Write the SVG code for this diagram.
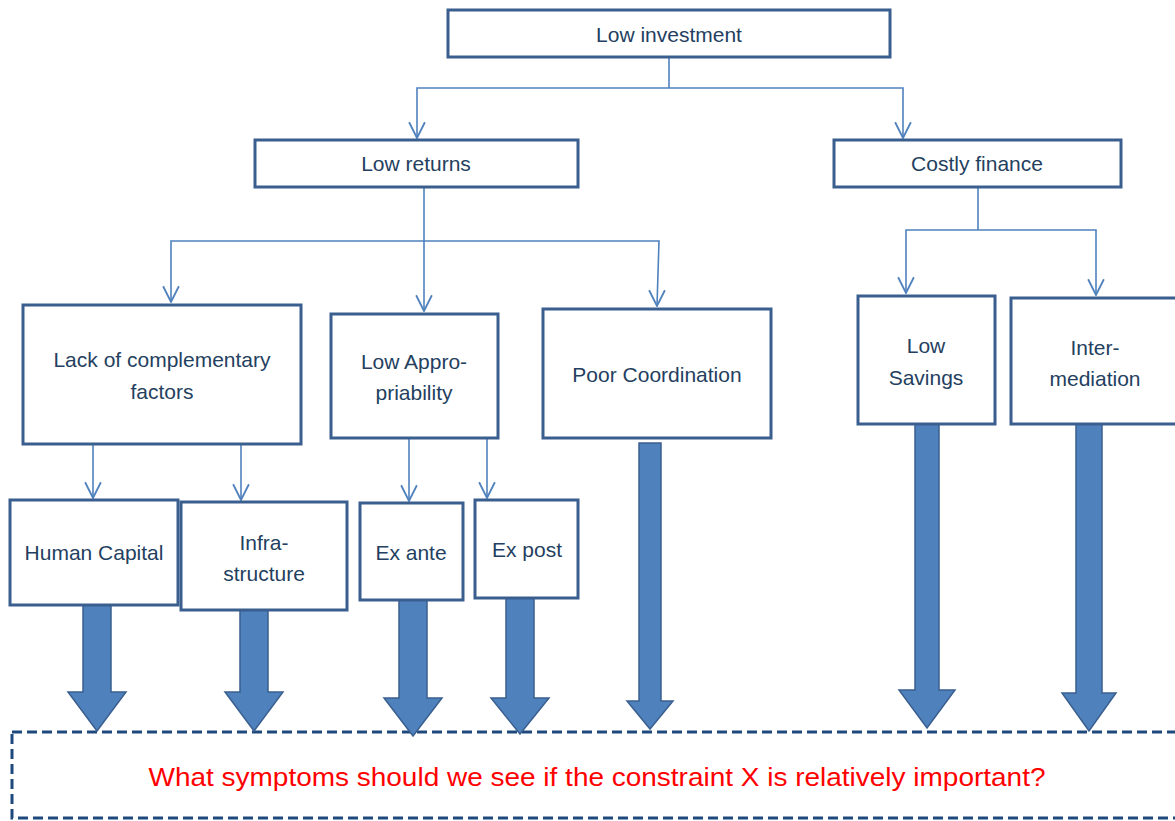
<svg xmlns="http://www.w3.org/2000/svg" width="1175" height="821" viewBox="0 0 1175 821">
  <defs>
    <marker id="open" markerUnits="userSpaceOnUse" markerWidth="20" markerHeight="20" refX="8" refY="14" orient="auto-start-reverse" viewBox="0 0 16 16">
      <path d="M1,0 L8,14 L15,0" fill="none" stroke="#4F81BD" stroke-width="1.6"/>
    </marker>
    <marker id="down" markerUnits="userSpaceOnUse" markerWidth="18" markerHeight="18" refX="8" refY="15" viewBox="0 0 16 16" orient="0">
      <path d="M1,1 L8,15 L15,1" fill="none" stroke="#4F81BD" stroke-width="1.6"/>
    </marker>
  </defs>
  <style>
    .box { fill: #FFFFFF; stroke: #3A5F8F; stroke-width: 3; }
    .lbl { font-family: "Liberation Sans", Arial, sans-serif; font-size: 21px; fill: #243F60; text-anchor: middle; }
    .con { fill: none; stroke: #4F81BD; stroke-width: 1.6; marker-end: url(#down); }
    .line { fill: none; stroke: #4F81BD; stroke-width: 1.6; }
    .big { fill: #4F81BD; stroke: #3A5F8F; stroke-width: 1.5; stroke-linejoin: miter; }
    .dash { fill: #FFFFFF; stroke: #1F497D; stroke-width: 3; stroke-dasharray: 10 5; }
    .q { font-family: "Liberation Sans", Arial, sans-serif; font-size: 26px; fill: #FF0000; text-anchor: middle; }
  </style>

  <rect fill="#FFFFFF" x="0" y="0" width="1175" height="821"/>

  <g id="question">
    <rect class="dash" x="12" y="732" width="1180" height="86"/>
    <text class="q" x="597" y="786" textLength="897" lengthAdjust="spacingAndGlyphs">What symptoms should we see if the constraint X is relatively important?</text>
  </g>

  <g id="connectors">
    <path class="line" d="M669,57 V88"/>
    <path class="con" d="M669,88 H417 V138"/>
    <path class="con" d="M669,88 H903 V138"/>
    <path class="con" d="M424,187 V311"/>
    <path class="con" d="M424,241 H171 V302"/>
    <path class="con" d="M424,241 H659 L657,306"/>
    <path class="line" d="M978,187 V230"/>
    <path class="con" d="M978,230 H906 V293"/>
    <path class="con" d="M978,230 H1096 V295"/>
    <path class="con" d="M93,444 V498"/>
    <path class="con" d="M241,444 V500"/>
    <path class="con" d="M409,438 V501"/>
    <path class="con" d="M487,438 V498"/>
    <polygon class="big" points="83,605 111,605 111,692 126,692 97,731 68,692 83,692"/>
    <polygon class="big" points="240,610 268,610 268,692 283,692 254,731 225,692 240,692"/>
    <polygon class="big" points="399,600 427,600 427,698 442,698 413,736 384,698 399,698"/>
    <polygon class="big" points="506,598 534,598 534,698 549,698 520,734 491,698 506,698"/>
    <polygon class="big" points="639,443 661,443 661,701 673,701 650,729 627,701 639,701"/>
    <polygon class="big" points="915,424 939,424 939,690 955,690 927,728 899,690 915,690"/>
    <polygon class="big" points="1076,424 1102,424 1102,693 1116,693 1089,731 1062,693 1076,693"/>
  </g>

  <g id="low-investment">
    <rect class="box" x="448" y="10" width="442" height="47"/>
    <text class="lbl" x="669" y="42">Low investment</text>
  </g>
  <g id="low-returns">
    <rect class="box" x="255" y="140" width="323" height="47"/>
    <text class="lbl" x="416" y="171">Low returns</text>
  </g>
  <g id="costly-finance">
    <rect class="box" x="834" y="140" width="287" height="47"/>
    <text class="lbl" x="977" y="171">Costly finance</text>
  </g>
  <g id="lack-complementary">
    <rect class="box" x="23" y="305" width="278" height="139"/>
    <text class="lbl" x="162" y="367">Lack of complementary</text>
    <text class="lbl" x="162" y="399">factors</text>
  </g>
  <g id="low-appropriability">
    <rect class="box" x="331" y="314" width="167" height="124"/>
    <text class="lbl" x="414" y="369">Low Appro-</text>
    <text class="lbl" x="414" y="400">priability</text>
  </g>
  <g id="poor-coordination">
    <rect class="box" x="543" y="309" width="228" height="129"/>
    <text class="lbl" x="657" y="382">Poor Coordination</text>
  </g>
  <g id="low-savings">
    <rect class="box" x="858" y="296" width="137" height="128"/>
    <text class="lbl" x="926" y="353">Low</text>
    <text class="lbl" x="926" y="385">Savings</text>
  </g>
  <g id="intermediation">
    <rect class="box" x="1011" y="298" width="172" height="126"/>
    <text class="lbl" x="1095" y="355">Inter-</text>
    <text class="lbl" x="1095" y="386">mediation</text>
  </g>
  <g id="human-capital">
    <rect class="box" x="10" y="500" width="168" height="105"/>
    <text class="lbl" x="94" y="560">Human Capital</text>
  </g>
  <g id="infrastructure">
    <rect class="box" x="181" y="502" width="166" height="108"/>
    <text class="lbl" x="264" y="550">Infra-</text>
    <text class="lbl" x="264" y="581">structure</text>
  </g>
  <g id="ex-ante">
    <rect class="box" x="360" y="503" width="103" height="97"/>
    <text class="lbl" x="411" y="560">Ex ante</text>
  </g>
  <g id="ex-post">
    <rect class="box" x="475" y="500" width="103" height="98"/>
    <text class="lbl" x="527" y="557">Ex post</text>
  </g>
</svg>
